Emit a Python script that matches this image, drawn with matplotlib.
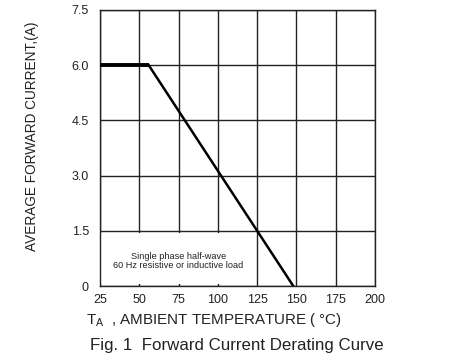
import matplotlib
matplotlib.use("Agg")
import matplotlib.pyplot as plt
from matplotlib.patches import Rectangle

plt.rcParams['font.family'] = ['Liberation Sans', 'DejaVu Sans']

# derating curve: temperature (C) vs average forward current (A)
temp = [25, 56, 148]
current = [6.0, 6.0, 0.0]

x_ticks = [25, 50, 75, 100, 125, 150, 175, 200]
y_ticks = [0, 1.5, 3.0, 4.5, 6.0, 7.5]
y_tick_labels = ["0", "1.5", "3.0", "4.5", "6.0", "7.5"]

fig = plt.figure(figsize=(4.66, 3.58), dpi=100)
ax = fig.add_axes([0.2146, 0.2011, 0.5901, 0.771])

ax.set_xlim(25, 200)
ax.set_ylim(0, 7.5)
ax.set_xticks(x_ticks)
ax.set_yticks(y_ticks)
ax.set_yticklabels(y_tick_labels)
ax.tick_params(length=0, labelsize=9, colors='#222222')
ax.tick_params(axis='y', pad=8)
ax.tick_params(axis='x', pad=6)
ax.set_axisbelow(True)
ax.grid(True, color='#222222', linewidth=1.0)
for s in ax.spines.values():
    s.set_color('#222222')
    s.set_linewidth(1.0)

# white box behind the note covers the grid in the lowest row
ax.add_patch(Rectangle((25.5, 0.05), 99, 1.4, facecolor='white', edgecolor='none', zorder=1))
ax.text(75, 0.68, "Single phase half-wave\n60 Hz resistive or inductive load",
        ha='center', va='center', fontsize=6.6, color='#222222', zorder=2, linespacing=1.1)

# flat part drawn thicker, slope thinner
ax.plot(temp[:2], current[:2], color='black', linewidth=2.8, zorder=3, solid_capstyle='butt')
ax.plot(temp[1:], current[1:], color='black', linewidth=1.8, zorder=3)

fig.text(0.068, 0.62, "AVERAGE FORWARD CURRENT,(A)", rotation=90, ha='center', va='center',
         fontsize=9.8, color='#222222')
fig.text(0.46, 0.106, r"T$_\mathregular{A}$  , AMBIENT TEMPERATURE ( °C)", ha='center', va='center',
         fontsize=10.9, color='#222222')
fig.text(0.5075, 0.036, "Fig. 1  Forward Current Derating Curve", ha='center', va='center',
         fontsize=12.2, color='#222222')

fig.savefig("out.png", dpi=100)
